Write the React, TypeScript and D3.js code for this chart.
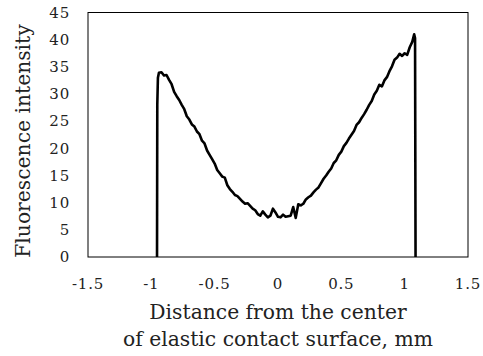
import React from "react";
import * as d3 from "d3";

const distance = [
  -0.955, -0.953, -0.948, -0.94, -0.92, -0.9, -0.88, -0.86, -0.84, -0.82, -0.8, -0.78, -0.76, -0.74, -0.72,
  -0.7, -0.68, -0.66, -0.64, -0.62, -0.6, -0.58, -0.56, -0.54, -0.52, -0.5, -0.48, -0.46, -0.44, -0.42,
  -0.4, -0.38, -0.36, -0.34, -0.32, -0.3, -0.28, -0.26, -0.24, -0.22, -0.2, -0.18, -0.16, -0.14, -0.12,
  -0.1, -0.08, -0.06, -0.04, -0.02, 0.0, 0.02, 0.04, 0.06, 0.08, 0.1, 0.12, 0.14, 0.16, 0.18,
  0.2, 0.22, 0.24, 0.26, 0.28, 0.3, 0.32, 0.34, 0.36, 0.38, 0.4, 0.42, 0.44, 0.46, 0.48,
  0.5, 0.52, 0.54, 0.56, 0.58, 0.6, 0.62, 0.64, 0.66, 0.68, 0.7, 0.72, 0.74, 0.76, 0.78,
  0.8, 0.82, 0.84, 0.86, 0.88, 0.9, 0.92, 0.94, 0.96, 0.98, 1.0, 1.02, 1.04, 1.06, 1.075,
  1.082, 1.086,
];

const intensity = [
  0, 28, 33, 33.9, 34.0, 33.4, 33.5, 32.6, 31.8, 30.4, 29.6, 28.9, 28.0, 27.2, 25.9,
  25.3, 24.4, 24.0, 23.1, 22.6, 21.4, 20.9, 19.6, 18.8, 18.0, 17.2, 16.0, 15.4, 14.8, 14.6,
  13.2, 12.5, 12.0, 11.4, 11.2, 10.7, 10.2, 9.8, 9.9, 9.4, 8.9, 8.6, 7.9, 7.6, 8.4,
  7.8, 7.3, 7.6, 8.9, 8.2, 7.4, 7.3, 7.8, 7.4, 7.5, 7.6, 9.2, 7.2, 9.7, 9.5,
  9.8, 10.6, 11.0, 11.3, 11.9, 12.4, 12.8, 13.6, 14.4, 15.0, 15.7, 16.3, 17.3, 17.8, 18.8,
  19.4, 20.4, 21.0, 21.8, 22.5, 23.2, 24.3, 24.8, 25.6, 26.3, 27.1, 28.0, 28.7, 29.9, 30.6,
  31.7, 31.4, 32.5, 33.1, 34.2, 35.1, 36.3, 36.7, 37.4, 37.0, 37.5, 37.2, 38.6, 39.6, 41.0,
  40.3, 0,
];

const xTicks = [-1.5, -1, -0.5, 0, 0.5, 1, 1.5];
const yTicks = [0, 5, 10, 15, 20, 25, 30, 35, 40, 45];

const xTitle1 = "Distance from the center";
const xTitle2 = "of elastic contact surface, mm";
const yTitle = "Fluorescence intensity";

const W = 483;
const H = 356;
const plot = { left: 88, right: 468, top: 12.5, bottom: 257 };
const font = "'DejaVu Serif', serif";

export default function App() {
  const x = d3.scaleLinear().domain([-1.5, 1.5]).range([plot.left, plot.right]);
  const y = d3.scaleLinear().domain([0, 45]).range([plot.bottom, plot.top]);
  const pts = distance.map((d, i) => [d, intensity[i]] as [number, number]);
  const line = d3
    .line<[number, number]>()
    .x((d) => x(d[0]))
    .y((d) => y(d[1]));
  const cx = (plot.left + plot.right) / 2;

  return (
    <svg
      width={W}
      height={H}
      viewBox={`0 0 ${W} ${H}`}
      style={{ position: "absolute", left: 0, top: 0, background: "#fff" }}
    >
      <rect x={0} y={0} width={W} height={H} fill="#fff" />
      <rect
        x={plot.left}
        y={plot.top}
        width={plot.right - plot.left}
        height={plot.bottom - plot.top}
        fill="none"
        stroke="#000"
        strokeWidth={1}
      />
      <path d={line(pts) || ""} fill="none" stroke="#000" strokeWidth={2.6} strokeLinejoin="round" />
      {yTicks.map((t) => (
        <text
          key={"y" + t}
          x={70}
          y={y(t)}
          dy="0.35em"
          textAnchor="end"
          fontFamily={font}
          fontSize={15}
          letterSpacing={0.8}
          fill="#222"
        >
          {String(t)}
        </text>
      ))}
      {xTicks.map((t) => (
        <text
          key={"x" + t}
          x={x(t)}
          y={289}
          textAnchor="middle"
          fontFamily={font}
          fontSize={15}
          letterSpacing={0.8}
          fill="#222"
        >
          {String(t)}
        </text>
      ))}
      <text x={cx} y={319} textAnchor="middle" fontFamily={font} fontSize={20.3} fill="#222">
        {xTitle1}
      </text>
      <text x={cx} y={346} textAnchor="middle" fontFamily={font} fontSize={20.3} fill="#222">
        {xTitle2}
      </text>
      <text
        transform={`translate(30, 141) rotate(-90)`}
        textAnchor="middle"
        fontFamily={font}
        fontSize={20.3}
        fill="#222"
      >
        {yTitle}
      </text>
    </svg>
  );
}
